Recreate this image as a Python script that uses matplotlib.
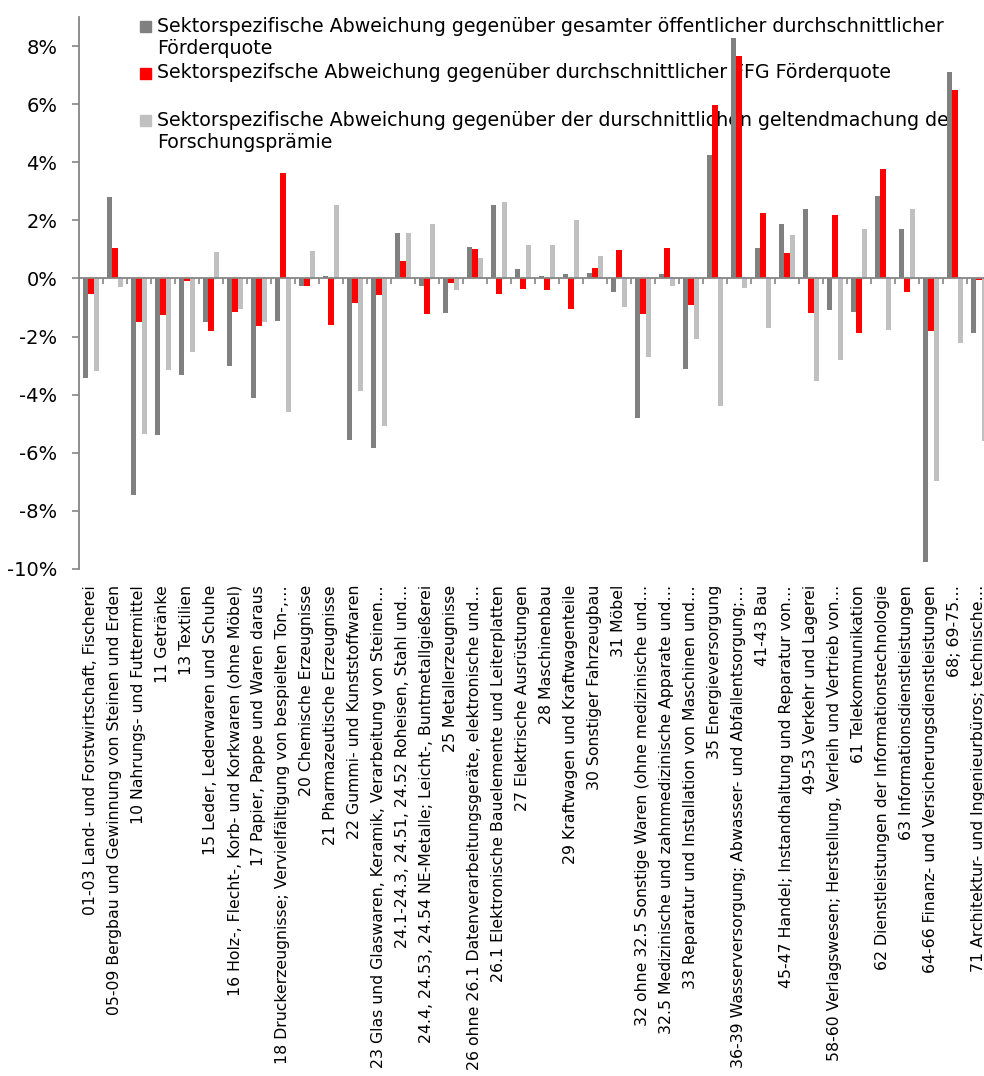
import matplotlib
matplotlib.use("Agg")
import matplotlib.pyplot as plt
from matplotlib.patches import Rectangle

# Sector labels (category axis)
categories = [
    "01-03 Land- und Forstwirtschaft, Fischerei",
    "05-09 Bergbau und Gewinnung von Steinen und Erden",
    "10 Nahrungs- und Futtermittel",
    "11 Getränke",
    "13 Textilien",
    "15 Leder, Lederwaren und Schuhe",
    "16 Holz-, Flecht-, Korb- und Korkwaren (ohne Möbel)",
    "17 Papier, Pappe und Waren daraus",
    "18 Druckerzeugnisse; Vervielfältigung von bespielten Ton-,…",
    "20 Chemische Erzeugnisse",
    "21 Pharmazeutische Erzeugnisse",
    "22 Gummi- und Kunststoffwaren",
    "23 Glas und Glaswaren, Keramik, Verarbeitung von Steinen…",
    "24.1-24.3, 24.51, 24.52 Roheisen, Stahl und…",
    "24.4, 24.53, 24.54 NE-Metalle; Leicht-, Buntmetallgießerei",
    "25 Metallerzeugnisse",
    "26 ohne 26.1 Datenverarbeitungsgeräte, elektronische und…",
    "26.1 Elektronische Bauelemente und Leiterplatten",
    "27 Elektrische Ausrüstungen",
    "28 Maschinenbau",
    "29 Kraftwagen und Kraftwagenteile",
    "30 Sonstiger Fahrzeugbau",
    "31 Möbel",
    "32 ohne 32.5 Sonstige Waren (ohne medizinische und…",
    "32.5 Medizinische und zahnmedizinische Apparate und…",
    "33 Reparatur und Installation von Maschinen und…",
    "35 Energieversorgung",
    "36-39 Wasserversorgung; Abwasser- und Abfallentsorgung;…",
    "41-43 Bau",
    "45-47 Handel; Instandhaltung und Reparatur von…",
    "49-53 Verkehr und Lagerei",
    "58-60 Verlagswesen; Herstellung, Verleih und Vertrieb von…",
    "61 Telekommunikation",
    "62 Dienstleistungen der Informationstechnologie",
    "63 Informationsdienstleistungen",
    "64-66 Finanz- und Versicherungsdienstleistungen",
    "68; 69-75…",
    "71 Architektur- und Ingenieurbüros; technische…",
]

# Deviations in percentage points
dev_public_total = [
    -3.42, 2.80, -7.45, -5.40, -3.33, -1.51, -3.02, -4.11, -1.45, -0.26,
    0.08, -5.55, -5.84, 1.57, -0.25, -1.18, 1.09, 2.54, 0.31, 0.09,
    0.15, 0.20, -0.46, -4.79, 0.15, -3.11, 4.26, 8.29, 1.06, 1.87,
    2.38, -1.10, -1.14, 2.83, 1.69, -9.76, 7.10, -1.87,
]
dev_ffg = [
    -0.52, 1.06, -1.49, -1.27, -0.07, -1.80, -1.16, -1.63, 3.64, -0.26,
    -1.60, -0.83, -0.56, 0.61, -1.22, -0.14, 1.02, -0.54, -0.35, -0.38,
    -1.05, 0.36, 0.99, -1.22, 1.04, -0.91, 5.97, 7.67, 2.25, 0.86,
    -1.18, 2.17, -1.88, 3.77, -0.45, -1.82, 6.48, -0.05,
]
dev_research_premium = [
    -3.20, -0.29, -5.34, -3.14, -2.52, 0.91, -1.05, -1.50, -4.60, 0.95,
    2.54, -3.87, -5.08, 1.57, 1.86, -0.38, 0.71, 2.62, 1.15, 1.15,
    2.00, 0.79, -0.99, -2.71, -0.25, -2.09, -4.39, -0.34, -1.71, 1.48,
    -3.53, -2.80, 1.72, -1.76, 2.38, -6.97, -2.21, -5.58,
]

series_labels = [
    ["Sektorspezifische Abweichung gegenüber gesamter öffentlicher durchschnittlicher",
     "Förderquote"],
    ["Sektorspezifsche Abweichung gegenüber durchschnittlicher FFG Förderquote"],
    ["Sektorspezifische Abweichung gegenüber der durschnittlichen geltendmachung der",
     "Forschungsprämie"],
]
series_colors = ["#808080", "#FF0000", "#C0C0C0"]

y_ticks = [-10, -8, -6, -4, -2, 0, 2, 4, 6, 8]
y_tick_labels = [f"{v}%" for v in y_ticks]

W, H = 984, 1076
AXIS_GREY = "#868686"
plt.rcParams["font.family"] = ["DejaVu Sans"]


def fx(px):
    return px / W


def fy(py):
    return 1 - py / H


fig = plt.figure(figsize=(W / 100, H / 100), dpi=100)
ax = fig.add_axes([fx(79), fy(569), 1 - fx(79), fy(17) - fy(569)])

n = len(categories)
xs = list(range(n))
bar_w = 0.22
all_series = [dev_public_total, dev_ffg, dev_research_premium]
for k, (vals, col) in enumerate(zip(all_series, series_colors)):
    ax.bar([x + (k - 1) * bar_w for x in xs], vals, width=bar_w,
           color=col, linewidth=0, zorder=3)

ax.set_xlim(-0.5, 37.21)
ax.set_ylim(-10, 9)

# Category labels below the plot area
ax.set_xticks(xs)
ax.set_xticklabels(categories, rotation=90, fontsize=11.3)
ax.tick_params(axis="x", length=0, pad=11.5)

ax.set_yticks(y_ticks)
ax.set_yticklabels(y_tick_labels, fontsize=14)
ax.tick_params(axis="y", direction="out", length=5, width=1.2,
               color=AXIS_GREY, pad=10.5)

for side in ("top", "right", "bottom"):
    ax.spines[side].set_visible(False)
ax.spines["left"].set_color(AXIS_GREY)
ax.spines["left"].set_linewidth(1.3)

# Category axis crossing at zero, with tick marks between groups
zero_axis = ax.secondary_xaxis(0, transform=ax.transData)
zero_axis.set_xticks([x + 0.5 for x in xs])
zero_axis.tick_params(axis="x", direction="out", length=4, width=1.2,
                      color=AXIS_GREY, labelbottom=False)
zero_axis.spines["bottom"].set_color(AXIS_GREY)
zero_axis.spines["bottom"].set_linewidth(1.3)
zero_axis.set_zorder(5)

# Legend entries (stacked at the top, drawn beneath the bars)
entry_rows = [[26, 48], [73], [120, 143]]
for lines, col, rows in zip(series_labels, series_colors, entry_rows):
    ax.add_patch(Rectangle((fx(140), fy(rows[0] + 6)), fx(11), 11 / H,
                           transform=fig.transFigure, color=col,
                           clip_on=False, zorder=1))
    for line, row in zip(lines, rows):
        ax.text(fx(157), fy(row), line, transform=fig.transFigure,
                fontsize=13.7, va="center", ha="left", color="black",
                clip_on=False, zorder=1)

fig.savefig("out.png", dpi=100)
